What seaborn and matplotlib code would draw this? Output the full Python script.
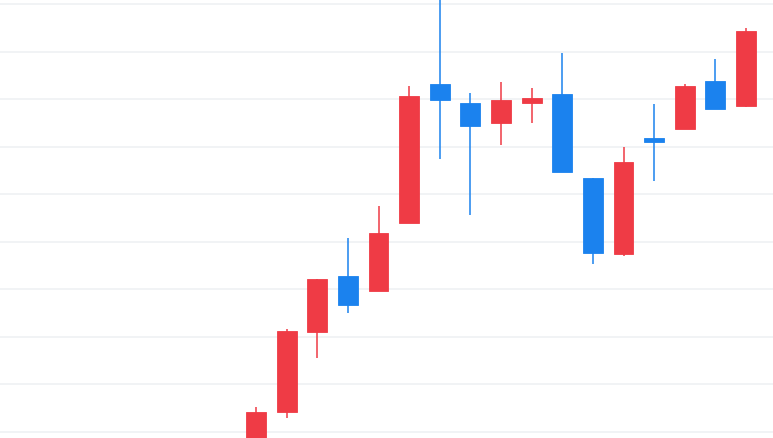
import matplotlib
matplotlib.use("Agg")
import matplotlib.pyplot as plt
import numpy as np
import pandas as pd
import seaborn as sns

# OHLC values (one entry per candle)
open_ = [-3.6, 4.3, 21.0, 32.8, 29.6, 43.9, 73.1, 69.2, 65.0, 69.2, 71.1, 53.4, 37.4, 61.8, 63.8, 73.7, 68.5]
high = [5.3, 21.6, 32.2, 40.8, 47.5, 72.7, 93.0, 71.2, 73.5, 72.3, 79.6, 53.4, 59.9, 68.9, 73.2, 78.4, 84.9]
low = [-5.7, 3.0, 15.6, 25.1, 29.6, 43.9, 57.3, 45.6, 60.4, 65.0, 54.7, 35.3, 37.1, 52.7, 63.8, 67.9, 68.4]
close = [4.2, 21.2, 32.2, 26.8, 41.8, 70.7, 69.9, 64.4, 69.9, 70.2, 54.7, 37.7, 56.7, 60.9, 72.7, 68.0, 84.3]
grid_levels = list(range(0, 100, 10))

UP = "#EF3B45"
DOWN = "#1B82EE"

df = pd.DataFrame({"open": open_, "high": high, "low": low, "close": close})
df["pos"] = np.arange(len(df))
df["color"] = np.where(df["close"] >= df["open"], UP, DOWN)
df["bottom"] = df[["open", "close"]].min(axis=1)
df["height"] = (df["close"] - df["open"]).abs().clip(lower=0.8)

sns.set_theme(style="whitegrid", rc={"grid.color": "#F0F2F5", "grid.linewidth": 1.3})

fig = plt.figure(figsize=(7.73, 4.39), dpi=100)
ax = fig.add_axes([0, 0, 1, 1])

ax.vlines(df["pos"], df["low"], df["high"], colors=df["color"], linewidth=1.1, zorder=2)
ax.bar(df["pos"], df["height"], bottom=df["bottom"], width=0.65,
       color=df["color"], edgecolor=df["color"], linewidth=0.6, zorder=3)

ax.set_yticks(grid_levels)
ax.set_xticks([])
ax.set_yticklabels([])
ax.tick_params(left=False, bottom=False)
ax.grid(axis="x", visible=False)
ax.set_xlim(-8.36, 16.88)
ax.set_ylim(-1.26, 91.04)
sns.despine(ax=ax, left=True, bottom=True)

fig.savefig("out.png", dpi=100)
